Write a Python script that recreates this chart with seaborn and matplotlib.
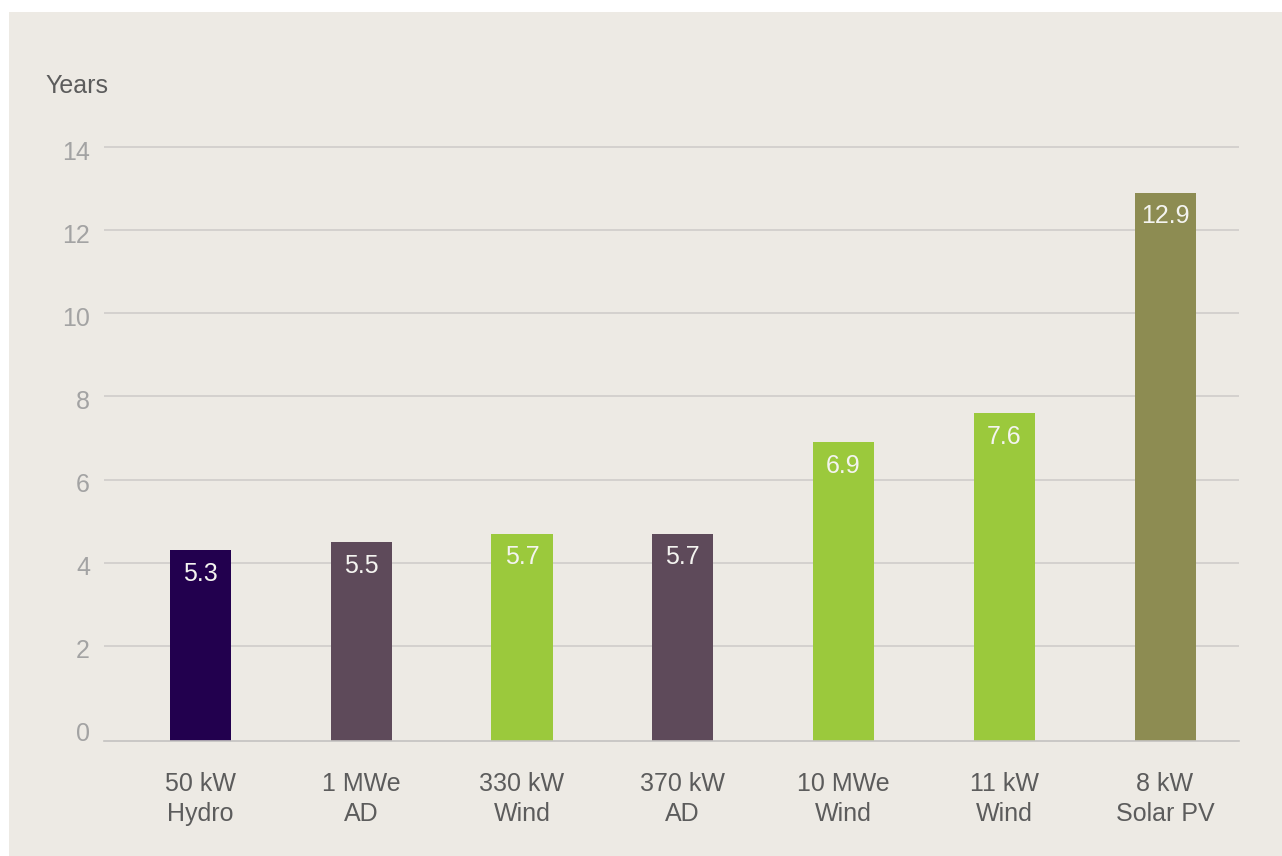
import numpy as np
import pandas as pd
from matplotlib import pyplot as plt
from matplotlib.patches import Rectangle
from matplotlib.transforms import ScaledTranslation
import seaborn as sns

categories = ['50 kW\nHydro', '1 MWe\nAD', '330 kW\nWind', '370 kW\nAD',
              '10 MWe\nWind', '11 kW\nWind', '8 kW\nSolar PV']
heights = [4.3, 4.5, 4.7, 4.7, 6.9, 7.6, 12.9]
value_labels = ['5.3', '5.5', '5.7', '5.7', '6.9', '7.6', '12.9']
colors = ['#22004e', '#5e4a5a', '#9bc93c', '#5e4a5a', '#9bc93c', '#9bc93c', '#8d8c52']

bg = '#edeae4'
sns.set_style('white')
plt.rcParams['font.family'] = ['Liberation Sans', 'DejaVu Sans']

W, H = 1282, 856
fig = plt.figure(figsize=(W / 100, H / 100), dpi=100, facecolor='white')
fig.patches.append(Rectangle((9 / W, 0), 1 - 9 / W, 1 - 12 / H, transform=fig.transFigure,
                             facecolor=bg, edgecolor='none', zorder=-10))

ax = fig.add_axes([104 / W, 115 / H, (1239 - 104) / W, (741 - 145) / H])
ax.set_facecolor(bg)

df = pd.DataFrame({'cat': categories, 'h': heights})
sns.barplot(data=df, x='cat', y='h', hue='cat', palette=colors, legend=False,
            width=0.38, saturation=1, linewidth=0, ax=ax)

ymin, ymax = -0.29, 14.05
ax.set_ylim(ymin, ymax)
ax.set_xlim(-0.6, 6.46)
# bars run down to the bottom line
for p in ax.patches:
    h = p.get_height()
    p.set_y(ymin)
    p.set_height(h - ymin)
    p.set_edgecolor('none')

for i, (h, lab) in enumerate(zip(heights, value_labels)):
    ax.annotate(lab, (i, h), xytext=(0, -17), textcoords='offset points',
                ha='center', va='center', color='#f4f4f0', fontsize=18)

ax.set_yticks(range(0, 15, 2))
ax.yaxis.grid(True, color='#cfcdca', linewidth=1.2)
ax.yaxis.get_gridlines()[0].set_visible(False)
ax.set_axisbelow(True)
for s in ['top', 'left', 'right']:
    ax.spines[s].set_visible(False)
ax.spines['bottom'].set_color('#c4c2c0')
ax.spines['bottom'].set_linewidth(1.2)

ax.tick_params(axis='y', length=0, pad=10, labelsize=18, labelcolor='#a3a3a3')
ax.tick_params(axis='x', length=0, pad=22, labelsize=18, labelcolor='#5c5c5c')
ax.set_xlabel('')
ax.set_ylabel('')
shift = ScaledTranslation(0, -3 / 100, fig.dpi_scale_trans)
for t in ax.get_yticklabels():
    t.set_transform(t.get_transform() + shift)
for t in ax.get_xticklabels():
    t.set_linespacing(1.35)

fig.text(45 / W, 1 - 93 / H, 'Years', fontsize=18, color='#5c5c5c', va='baseline', ha='left')

plt.savefig('out.png', dpi=100, facecolor='white')
